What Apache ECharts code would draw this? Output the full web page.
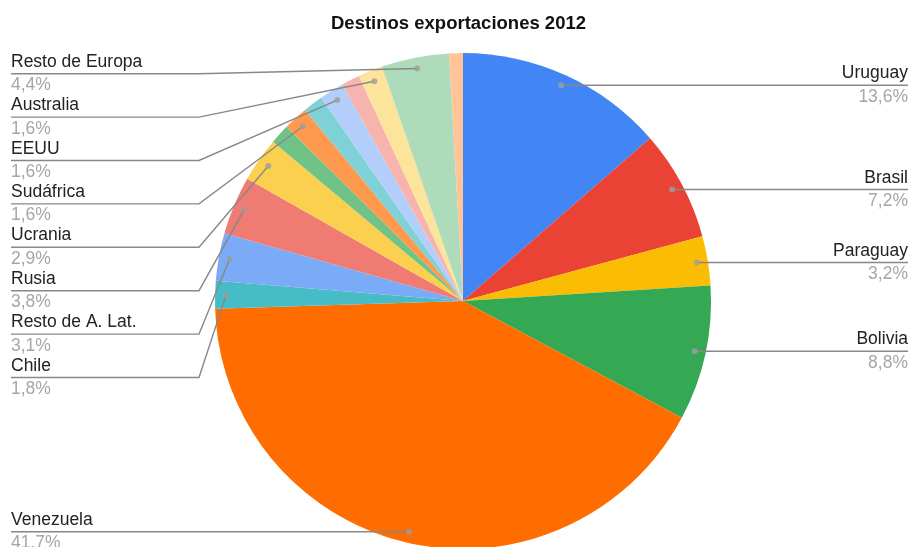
<!DOCTYPE html>
<html>
<head>
<meta charset="utf-8">
<script src="https://cdn.jsdelivr.net/npm/echarts@6/dist/echarts.min.js"></script>
<style>
  html, body { margin: 0; padding: 0; background: #fff; }
  #chart-container { width: 917px; height: 547px; }
</style>
</head>
<body>
<div id="chart-container"></div>
<script>
// Datos: destinos de exportación 2012 (% del total), en sentido horario desde arriba
const destinos = ['Uruguay', 'Brasil', 'Paraguay', 'Bolivia', 'Venezuela', 'Chile',
  'Resto de A. Lat.', 'Rusia', 'Ucrania', '', 'Sudáfrica', '', 'EEUU', '', 'Australia',
  'Resto de Europa', ''];
const porcentajes = [13.6, 7.2, 3.2, 8.8, 41.7, 1.8, 3.1, 3.8, 2.9, 1.3, 1.6, 1.3, 1.6, 1.2, 1.6, 4.4, 0.9];
const etiquetas = ['13,6%', '7,2%', '3,2%', '8,8%', '41.7%', '1,8%', '3,1%', '3,8%', '2,9%', '',
  '1,6%', '', '1,6%', '', '1,6%', '4,4%', ''];

// Paleta (estilo)
const colores = ['#4285f4', '#ea4335', '#fbbc04', '#34a853', '#ff6d01', '#46bdc6', '#7baaf7',
  '#f07b72', '#fcd04f', '#71c287', '#ff994d', '#7ed1d7', '#b3cefb', '#f7b4ae', '#fde49b',
  '#aedcba', '#ffc599'];

const CX = 463, CY = 301, R = 248, R_PUNTO = 237;
const FUENTE = '"Liberation Sans", Arial, sans-serif';

var myChart = echarts.init(document.getElementById('chart-container'));

// punto medio de cada porción (en %), para los marcadores de las etiquetas
let acumulado = 0;
const medios = porcentajes.map(v => { const m = acumulado + v / 2; acumulado += v; return m; });
const puntos = [];
medios.forEach((m, i) => { if (destinos[i]) puntos.push([R_PUNTO, m]); });

const datosPie = destinos.map((d, i) => ({
  name: d,
  value: porcentajes[i],
  itemStyle: { color: colores[i] }
}));
const datosEtiquetas = destinos.map((d, i) => ({
  name: d,
  value: porcentajes[i],
  label: { show: d !== '' },
  labelLine: { show: d !== '' }
}));

var option = {
  animation: false,
  textStyle: { fontFamily: FUENTE },
  title: {
    text: 'Destinos exportaciones 2012',
    left: 'center',
    top: 9,
    textStyle: { fontFamily: FUENTE, fontSize: 18.5, fontWeight: 'bold', color: '#111' }
  },
  polar: { center: [CX, CY], radius: R },
  angleAxis: { type: 'value', min: 0, max: 100, startAngle: 90, clockwise: true, show: false },
  radiusAxis: { type: 'value', min: 0, max: R, show: false },
  series: [
    {
      name: 'porciones',
      type: 'pie',
      center: [CX, CY],
      radius: R,
      startAngle: 90,
      clockwise: true,
      silent: true,
      label: { show: false },
      labelLine: { show: false },
      itemStyle: { borderWidth: 0 },
      data: datosPie,
      z: 1
    },
    {
      name: 'etiquetas',
      type: 'pie',
      left: 2, top: 52, right: 0, bottom: -30,
      center: [CX - 2, CY - 52],
      radius: R_PUNTO,
      startAngle: 90,
      clockwise: true,
      silent: true,
      itemStyle: { color: 'rgba(0,0,0,0)' },
      label: {
        position: 'outer',
        alignTo: 'edge',
        edgeDistance: 9,
        formatter: p => '{n|' + p.name + '}\n{p|' + etiquetas[p.dataIndex] + '}',
        rich: {
          n: { fontFamily: FUENTE, fontSize: 17.5, color: '#222', lineHeight: 23.4 },
          p: { fontFamily: FUENTE, fontSize: 17.5, color: '#a6a6a6', lineHeight: 23.4 }
        }
      },
      labelLine: { show: true, length: 0, length2: 0, lineStyle: { color: '#888', width: 1.4 } },
      labelLayout: function (params) {
        const pts = params.labelLinePoints;
        if (!pts) return {};
        const r = params.labelRect;
        const y = r.y + r.height / 2;
        const p0 = pts[0];
        if (p0[0] < CX) {
          return { labelLinePoints: [p0, [r.x + 188, y], [r.x, y]] };
        }
        return { labelLinePoints: [p0, [r.x + r.width - 188, y], [r.x + r.width, y]] };
      },
      data: datosEtiquetas,
      z: 2
    },
    {
      name: 'marcadores',
      type: 'scatter',
      coordinateSystem: 'polar',
      symbolSize: 6,
      silent: true,
      itemStyle: { color: '#9e9e9e' },
      data: puntos,
      z: 3
    }
  ]
};

myChart.setOption(option);
</script>
</body>
</html>
